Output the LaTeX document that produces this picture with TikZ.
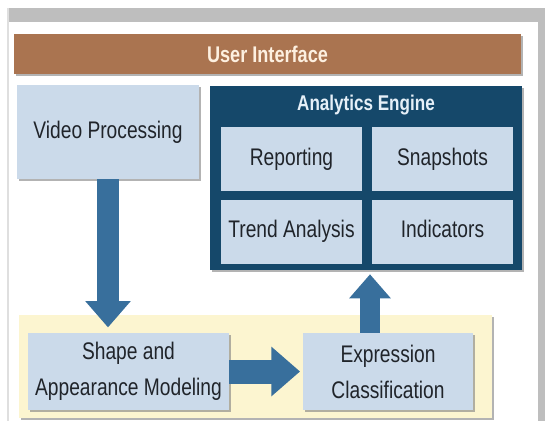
\documentclass[tikz,border=0pt]{standalone}
\usepackage{fontspec}
\setmainfont{Liberation Sans}[FakeStretch=0.8]
\usetikzlibrary{positioning, arrows.meta, shadows}

\definecolor{uibrown}{RGB}{170,116,80}
\definecolor{navy}{RGB}{21,72,106}
\definecolor{paleblue}{RGB}{203,218,234}
\definecolor{flowblue}{RGB}{56,111,156}
\definecolor{paleyellow}{RGB}{252,245,208}
\definecolor{framegray}{RGB}{190,190,190}
\definecolor{inkgray}{RGB}{32,36,42}

\begin{document}
\begin{tikzpicture}[x=0.75pt, y=-0.75pt,
    every node/.style={font=\fontsize{18}{27}\selectfont, text=inkgray, align=center, inner sep=0pt},
    panel/.style={drop shadow={shadow xshift=1.5pt, shadow yshift=-1.5pt, fill=black!50, opacity=0.6}},
    cell/.style={fill=paleblue, minimum width=105.75pt, minimum height=48pt, text height=13pt, text depth=4pt},
    flow/.style={draw=flowblue, line width=#1, -{Triangle[length=0pt 1.2, width=0pt 2]}}
]
    \useasboundingbox (0,0) rectangle (545,421);
    % outer frame
    \fill[framegray] (9,8) rectangle (545,22);
    \fill[framegray] (538,8) rectangle (545,421);
    \draw[framegray!50, line width=1pt] (8,8) -- (8,421);

    \node[panel, fill=uibrown, minimum width=380.25pt, minimum height=30pt,
          text={rgb,255:red,253;green,240;blue,224}, font=\fontsize{17}{20}\selectfont\bfseries]
          (ui) at (267.5,54) {User Interface};

    \node[panel, fill=paleblue, minimum width=136.5pt, minimum height=70.5pt]
          (video) at (108,132) {Video Processing};

    % analytics engine with its four cells
    \node[panel, fill=navy, minimum width=234pt, minimum height=138pt] (engine) at (366,178) {};
    \node[text={rgb,255:red,230;green,240;blue,248}, font=\fontsize{16}{19}\selectfont\bfseries]
          (enginetitle) at (366,105) {Analytics Engine};
    \foreach \nm/\txt/\cx/\cy in {report/Reporting/291.5/159, snap/Snapshots/442.5/159,
                                  trend/Trend Analysis/291.5/231.5, indic/Indicators/442.5/231.5} {
        \node[cell] (\nm) at (\cx,\cy) {\txt};
    }

    % modeling stage
    \node[panel, fill=paleyellow, minimum width=354.75pt, minimum height=77.25pt] (model) at (255.5,366.5) {};
    \node[panel, fill=paleblue, minimum width=150.75pt, minimum height=57.75pt]
          (shape) at (128.5,371.5) {Shape and\\Appearance Modeling};
    \node[panel, fill=paleblue, minimum width=127.5pt, minimum height=57.75pt]
          (expr) at (388,371.5) {Expression\\Classification};

    \draw[flow=16.5pt, shorten >=4pt] (video.south) -- (video.south |- shape.north);
    \draw[flow=18pt, shorten >=2pt] (shape.east) -- (expr.west);
    \draw[flow=15pt, shorten >=3pt] ([xshift=-13.5pt]expr.north) -- ([xshift=-13.5pt]expr.north |- engine.south);
\end{tikzpicture}
\end{document}
